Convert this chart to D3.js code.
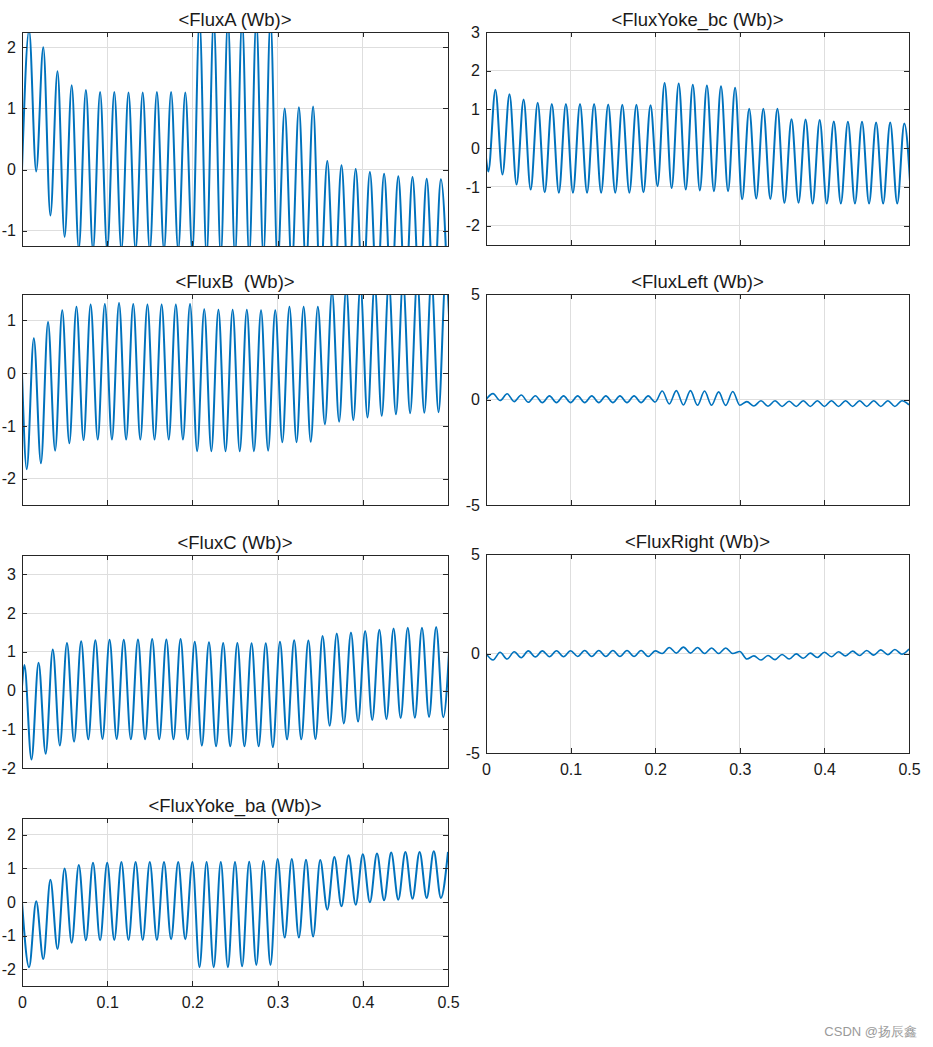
<!DOCTYPE html>
<html>
<head>
<meta charset="utf-8">
<script src="https://cdn.jsdelivr.net/npm/d3@7"></script>
<style>
  html, body { margin: 0; padding: 0; background: #fff; }
  svg { display: block; }
  text { font-family: "Liberation Sans", Arial, sans-serif; fill: #1a1a1a; }
</style>
</head>
<body>
<script>
// ---------------- DATA ----------------
const period = 1 / 60;                 // 60 Hz waveforms
const timeTicks = [0, 0.1, 0.2, 0.3, 0.4, 0.5];

// FluxA : peaks at (k+0.5)T, troughs at (k+1)T
const fluxA_start = 0;
const fluxA_peaks = [2.28, 2.0, 1.61, 1.38, 1.30, 1.27, 1.27, 1.26, 1.26, 1.27, 1.27, 1.26,
  2.45, 2.45, 2.45, 2.45, 2.45, 2.45, 1.0, 1.02, 1.03, 0.14, 0.07, 0.01, -0.04, -0.07, -0.11, -0.12, -0.15, -0.16];
const fluxA_troughs = [-0.03, -0.75, -1.10, -1.30, -1.32, -1.32, -1.32, -1.32, -1.32, -1.32, -1.32, -1.35,
  -1.42, -1.42, -1.42, -1.42, -1.42, -1.55, -1.60, -1.60, -1.95, -2.0, -2.05, -2.08, -2.10, -2.12, -2.14, -2.15, -2.16, -2.17];

// FluxYoke_bc : troughs at (k+1/6)T, peaks at (k+2/3)T
const fluxYokeBc_start = -0.25;
const fluxYokeBc_peaks = [1.51, 1.39, 1.26, 1.17, 1.14, 1.14, 1.14, 1.14, 1.13, 1.12, 1.12, 1.11,
  1.68, 1.67, 1.64, 1.62, 1.60, 1.56, 1.02, 1.02, 1.02, 0.75, 0.74, 0.73, 0.69, 0.68, 0.68, 0.66, 0.66, 0.64];
const fluxYokeBc_troughs = [-0.6, -0.68, -0.94, -1.07, -1.14, -1.15, -1.15, -1.15, -1.15, -1.15, -1.15, -1.14,
  -0.98, -1.03, -1.07, -1.09, -1.11, -1.11, -1.32, -1.30, -1.31, -1.41, -1.41, -1.43, -1.43, -1.43, -1.43, -1.43, -1.43, -1.43, -1.43];

// FluxB : troughs at (k+1/3)T, peaks at (k+5/6)T
const fluxB_start = 0;
const fluxB_peaks = [0.66, 0.97, 1.19, 1.26, 1.30, 1.31, 1.33, 1.31, 1.30, 1.30, 1.30, 1.31,
  1.21, 1.20, 1.20, 1.20, 1.19, 1.19, 1.26, 1.26, 1.26, 1.55, 1.62, 1.66, 1.70, 1.73, 1.76, 1.78, 1.79, 1.80];
const fluxB_troughs = [-1.82, -1.71, -1.47, -1.33, -1.27, -1.26, -1.26, -1.26, -1.26, -1.26, -1.26, -1.26,
  -1.48, -1.48, -1.48, -1.48, -1.48, -1.47, -1.31, -1.31, -1.30, -0.97, -0.92, -0.89, -0.84, -0.81, -0.78, -0.76, -0.75, -0.74, -0.73];

// FluxLeft : peaks at (k+0.5)T, troughs at (k+1)T
const fluxLeft_start = 0;
const fluxLeft_peaks = [0.28, 0.27, 0.21, 0.18, 0.17, 0.17, 0.17, 0.17, 0.17, 0.17, 0.17, 0.17,
  0.40, 0.42, 0.42, 0.40, 0.36, 0.38, -0.10, -0.06, -0.06, -0.08, -0.06, -0.06, -0.06, -0.06, -0.06, -0.06, -0.06, -0.06];
const fluxLeft_troughs = [-0.05, -0.10, -0.13, -0.15, -0.15, -0.15, -0.15, -0.15, -0.15, -0.15, -0.15, -0.12,
  -0.21, -0.26, -0.27, -0.27, -0.28, -0.27, -0.31, -0.32, -0.33, -0.33, -0.33, -0.33, -0.33, -0.33, -0.33, -0.33, -0.33, -0.25];

// FluxC : peaks at (k+1/6)T, troughs at (k+2/3)T
const fluxC_start = 0.1;
const fluxC_peaks = [0.66, 0.72, 1.06, 1.23, 1.27, 1.30, 1.31, 1.31, 1.32, 1.33, 1.32, 1.33,
  1.26, 1.25, 1.23, 1.23, 1.22, 1.22, 1.26, 1.30, 1.29, 1.41, 1.47, 1.50, 1.54, 1.57, 1.60, 1.62, 1.62, 1.64, 1.65];
const fluxC_troughs = [-1.78, -1.63, -1.42, -1.32, -1.26, -1.25, -1.25, -1.26, -1.26, -1.26, -1.26, -1.26,
  -1.42, -1.44, -1.44, -1.44, -1.44, -1.46, -1.26, -1.26, -1.25, -0.91, -0.85, -0.80, -0.76, -0.74, -0.71, -0.70, -0.68, -0.69];

// FluxRight : troughs at (k+0.5)T, peaks at (k+1)T
const fluxRight_start = 0;
const fluxRight_peaks = [0.06, 0.09, 0.13, 0.13, 0.14, 0.14, 0.15, 0.15, 0.15, 0.15, 0.15, 0.13,
  0.30, 0.32, 0.30, 0.28, 0.28, 0.10, -0.12, -0.10, -0.05, -0.02, 0.02, 0.06, 0.09, 0.12, 0.15, 0.18, 0.20, 0.22];
const fluxRight_troughs = [-0.33, -0.28, -0.21, -0.17, -0.16, -0.16, -0.15, -0.15, -0.15, -0.15, -0.15, -0.15,
  0.0, 0.02, 0.02, 0.0, 0.0, 0.0, -0.28, -0.33, -0.31, -0.28, -0.24, -0.20, -0.16, -0.12, -0.10, -0.08, -0.06, -0.04];

// FluxYoke_ba : troughs at (k+0.5)T, peaks at (k+1)T
const fluxYokeBa_start = 0;
const fluxYokeBa_peaks = [0.02, 0.66, 1.0, 1.10, 1.17, 1.17, 1.19, 1.19, 1.19, 1.19, 1.19, 1.19,
  1.19, 1.19, 1.19, 1.20, 1.22, 1.28, 1.28, 1.26, 1.25, 1.34, 1.39, 1.42, 1.44, 1.47, 1.49, 1.49, 1.51, 1.49];
const fluxYokeBa_troughs = [-1.94, -1.70, -1.40, -1.21, -1.14, -1.14, -1.13, -1.13, -1.13, -1.13, -1.11, -1.11,
  -1.94, -1.94, -1.94, -1.91, -1.87, -1.87, -1.06, -1.06, -1.03, -0.23, -0.13, -0.08, -0.01, 0.05, 0.07, 0.10, 0.12, 0.12];

// ---------------- LAYOUT ----------------
const W = 933, H = 1047;
const cols = [{ x0: 22, x1: 448 }, { x0: 486, x1: 909 }];

const panels = [
  { title: "<FluxA (Wb)>", col: 0, top: 32, bottom: 246, yDomain: [-1.25, 2.25], yTicks: [-1, 0, 1, 2],
    start: fluxA_start, peaks: fluxA_peaks, peakPhase: 0.5, troughs: fluxA_troughs, troughPhase: 1, xLabels: false, lw: 2 },
  { title: "<FluxYoke_bc (Wb)>", col: 1, top: 32, bottom: 245, yDomain: [-2.5, 3], yTicks: [-2, -1, 0, 1, 2, 3],
    start: fluxYokeBc_start, peaks: fluxYokeBc_peaks, peakPhase: 2 / 3, troughs: fluxYokeBc_troughs, troughPhase: 1 / 6, xLabels: false, lw: 2 },
  { title: "<FluxB  (Wb)>", col: 0, top: 294, bottom: 505, yDomain: [-2.5, 1.5], yTicks: [-2, -1, 0, 1],
    start: fluxB_start, peaks: fluxB_peaks, peakPhase: 5 / 6, troughs: fluxB_troughs, troughPhase: 1 / 3, xLabels: false, lw: 2 },
  { title: "<FluxLeft (Wb)>", col: 1, top: 294, bottom: 505, yDomain: [-5, 5], yTicks: [-5, 0, 5],
    start: fluxLeft_start, peaks: fluxLeft_peaks, peakPhase: 0.5, troughs: fluxLeft_troughs, troughPhase: 1, xLabels: false, lw: 1.6 },
  { title: "<FluxC (Wb)>", col: 0, top: 555, bottom: 768, yDomain: [-2, 3.5], yTicks: [-2, -1, 0, 1, 2, 3],
    start: fluxC_start, peaks: fluxC_peaks, peakPhase: 1 / 6, troughs: fluxC_troughs, troughPhase: 2 / 3, xLabels: false, lw: 2 },
  { title: "<FluxRight (Wb)>", col: 1, top: 554, bottom: 753, yDomain: [-5, 5], yTicks: [-5, 0, 5],
    start: fluxRight_start, peaks: fluxRight_peaks, peakPhase: 1, troughs: fluxRight_troughs, troughPhase: 0.5, xLabels: true, lw: 1.6 },
  { title: "<FluxYoke_ba (Wb)>", col: 0, top: 818, bottom: 986, yDomain: [-2.5, 2.5], yTicks: [-2, -1, 0, 1, 2],
    start: fluxYokeBa_start, peaks: fluxYokeBa_peaks, peakPhase: 1, troughs: fluxYokeBa_troughs, troughPhase: 0.5, xLabels: true, lw: 2 }
];

const svg = d3.select("body").append("svg").attr("width", W).attr("height", H);
svg.append("rect").attr("width", W).attr("height", H).attr("fill", "#fff");
const defs = svg.append("defs");
const lineColor = "#0072BD";
const tickLen = 5;
const numFmt = d => String(d).replace("\u2212", "-");   // plain hyphen minus like the reference
const timeFmt = d => d === 0 ? "0" : d3.format(".1f")(d);

panels.forEach((p, i) => {
  const c = cols[p.col];
  const x = d3.scaleLinear().domain([0, 0.5]).range([c.x0, c.x1]);
  const y = d3.scaleLinear().domain(p.yDomain).range([p.bottom, p.top]);
  const g = svg.append("g");

  // grid
  g.selectAll(".gx").data(timeTicks.slice(1, -1)).enter().append("line")
    .attr("x1", d => x(d)).attr("x2", d => x(d)).attr("y1", p.top).attr("y2", p.bottom)
    .attr("stroke", "#dedede").attr("stroke-width", 1).attr("shape-rendering", "crispEdges");
  g.selectAll(".gy").data(p.yTicks.filter(v => v > p.yDomain[0] && v < p.yDomain[1])).enter().append("line")
    .attr("x1", c.x0).attr("x2", c.x1).attr("y1", d => y(d)).attr("y2", d => y(d))
    .attr("stroke", "#dedede").attr("stroke-width", 1).attr("shape-rendering", "crispEdges");

  // data points (extremes)
  const pts = [{ t: 0, v: p.start }];
  p.peaks.forEach((v, k) => pts.push({ t: (k + p.peakPhase) * period, v }));
  p.troughs.forEach((v, k) => pts.push({ t: (k + p.troughPhase) * period, v }));
  pts.sort((a, b) => a.t - b.t);
  const data = pts.filter((d, j) => j === 0 || d.t > 0);

  const clipId = "clip" + i;
  defs.append("clipPath").attr("id", clipId).append("rect")
    .attr("x", c.x0).attr("y", p.top).attr("width", c.x1 - c.x0).attr("height", p.bottom - p.top);

  const line = d3.line().x(d => x(d.t)).y(d => y(d.v)).curve(d3.curveMonotoneX);
  g.append("path").datum(data).attr("clip-path", `url(#${clipId})`)
    .attr("d", line).attr("fill", "none").attr("stroke", lineColor)
    .attr("stroke-width", p.lw).attr("stroke-linejoin", "round");

  // axes with inward ticks on all sides
  const axL = d3.axisLeft(y).tickValues(p.yTicks).tickSizeInner(-tickLen).tickSizeOuter(0).tickPadding(6).tickFormat(numFmt);
  const axR = d3.axisRight(y).tickValues(p.yTicks).tickSizeInner(-tickLen).tickSizeOuter(0).tickFormat("");
  const axB = d3.axisBottom(x).tickValues(timeTicks).tickSizeInner(-tickLen).tickSizeOuter(0).tickPadding(11)
    .tickFormat(p.xLabels ? timeFmt : "");
  const axT = d3.axisTop(x).tickValues(timeTicks).tickSizeInner(-tickLen).tickSizeOuter(0).tickFormat("");

  const gl = g.append("g").attr("transform", `translate(${c.x0},0)`).call(axL);
  const gr = g.append("g").attr("transform", `translate(${c.x1},0)`).call(axR);
  const gb = g.append("g").attr("transform", `translate(0,${p.bottom})`).call(axB);
  const gt = g.append("g").attr("transform", `translate(0,${p.top})`).call(axT);
  [gl, gr, gb, gt].forEach(a => {
    a.select(".domain").remove();
    a.selectAll(".tick line").attr("stroke", "#262626").attr("shape-rendering", "crispEdges");
    a.selectAll("text").attr("font-family", "Liberation Sans, Arial, sans-serif")
      .attr("font-size", 16).attr("fill", "#1a1a1a");
  });

  // frame
  g.append("rect").attr("x", c.x0).attr("y", p.top).attr("width", c.x1 - c.x0).attr("height", p.bottom - p.top)
    .attr("fill", "none").attr("stroke", "#262626").attr("stroke-width", 1).attr("shape-rendering", "crispEdges");

  // title
  g.append("text").attr("x", (c.x0 + c.x1) / 2).attr("y", p.top - 6)
    .attr("text-anchor", "middle").attr("font-size", 18.5).style("white-space", "pre")
    .text(p.title);
});

// watermark
svg.append("text").attr("x", 917).attr("y", 1036).attr("text-anchor", "end")
  .attr("font-family", "Liberation Sans, 'Noto Sans CJK SC', sans-serif").attr("font-size", 13)
  .style("fill", "#9a9a9a").text("CSDN @扬辰鑫");
</script>
</body>
</html>
